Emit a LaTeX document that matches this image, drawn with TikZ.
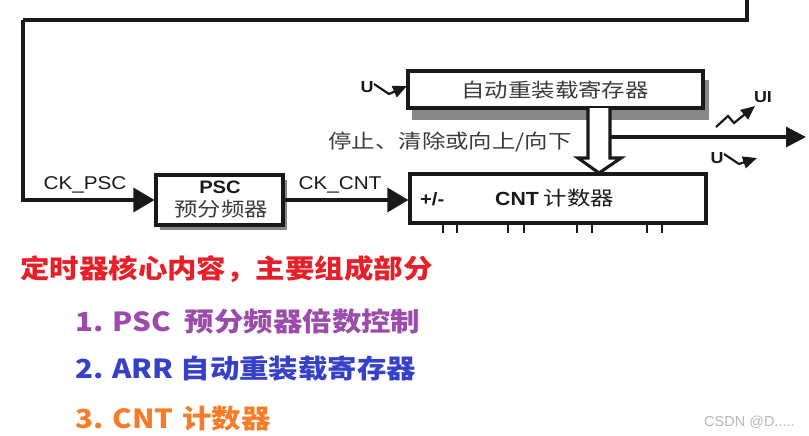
\documentclass[tikz,border=0pt]{standalone}
\usepackage{fontspec}
\setmainfont{Liberation Sans}[FakeStretch=1.12]
\newfontfamily\cjk{Noto Sans CJK SC}[FakeStretch=1.2]
\newfontfamily\cjkt{Noto Sans CJK SC}[FakeStretch=1.12]
\newfontfamily\wmfont{Liberation Sans}
\usetikzlibrary{arrows.meta}
\definecolor{cred}{RGB}{232,30,40}
\definecolor{cpur}{RGB}{155,75,170}
\definecolor{cblue}{RGB}{55,65,200}
\definecolor{corg}{RGB}{245,125,40}
\definecolor{ink}{RGB}{25,25,25}
\definecolor{shadowc}{RGB}{135,135,135}
\tikzset{
  ln/.style={line width=3.1pt, draw=ink, line join=miter},
  boxs/.style={draw=ink, line width=3.1pt, fill=white, inner sep=0pt},
  shad/.style={fill=shadowc, draw=none},
  bigarrow/.style={-{Triangle[length=21pt,width=24pt]}},
  smallarrow/.style={-{Triangle[length=14pt,width=12pt]}},
  lbl/.style={font=\fontsize{18.5}{18}\selectfont, text=ink, inner sep=0pt},
  blbl/.style={font=\bfseries\fontsize{18}{18}\selectfont, text=ink, inner sep=0pt},
  ulbl/.style={font=\bfseries\fontsize{16}{15}\selectfont, text=ink, inner sep=0pt},
  cjkl/.style={font=\cjk\fontsize{19.5}{20}\selectfont, text=ink!85, inner sep=0pt},
  ticks/.style={line width=2.2pt, draw=ink},
  bottomtxt/.style={font=\cjkt\bfseries\fontsize{26.3}{27}\selectfont, inner sep=0pt, anchor=west},
}
\begin{document}
\begin{tikzpicture}[x=1pt,y=-1pt]
\path[use as bounding box, fill=white] (0,0) rectangle (809,436);

% shadows
\fill[shad] (412,80) rectangle (709,120);
\fill[shad] (160,180) rectangle (287,230);

% boxes
\node[boxs, minimum width=295pt, minimum height=37pt] (arr) at (555.5,89.5) {};
\node[boxs, minimum width=127pt, minimum height=50pt] (psc) at (219.5,200) {};
\node[boxs, minimum width=296pt, minimum height=49pt] (cnt) at (558,198.5) {};

% box texts
\node[cjkl] (arrtxt) at (555,90) {自动重装载寄存器};
\node[blbl] (psctxt) at (220,187.5) {PSC};
\node[cjkl] (psccjk) at (221,209) {预分频器};
\node[blbl, anchor=west] (pm) at (420,199) {+/-};
\node[anchor=west, inner sep=0pt, text=ink] (cnttxt) at (495,198)
  {{\bfseries\fontsize{19}{19}\selectfont CNT}\hspace{5pt}{\cjk\fontsize{19.5}{20}\selectfont 计数器}};

% labels
\node[lbl] (ckpsc) at (85,185) {CK\_PSC};
\node[lbl] (ckcnt) at (340,185) {CK\_CNT};
\node[cjkl] (ctrl) at (450,142) {停止、清除或向上/向下};

% loop from top
\coordinate (topstart) at (747,-2);
\coordinate (corner) at (23,20);
\draw[ln] (topstart) |- (corner);
\draw[ln, bigarrow] (corner) |- (psc.west);
\draw[ln, bigarrow] (psc.east) -- (psc.east -| cnt.west);

% hollow transfer arrow ARR -> CNT
\draw[ln, fill=white] (588,108) -- (588,158) -- (578,158) -- (599,173) -- (621,158) -- (610,158) -- (610,108);

% output line
\coordinate (outstart) at (610,137);
\coordinate (outend) at (806,137);
\draw[ln, -{Triangle[length=20pt,width=20pt]}] (outstart) -- (outend);

% U arrows
\node[ulbl] (u1) at (367,87.5) {U};
\coordinate (u1a) at (374,84);
\coordinate (u1b) at (389,94);
\coordinate (u1c) at (407,86);
\draw[line width=2.2pt, draw=ink, smallarrow] (u1a) -- (u1b) -- (u1c);

\node[ulbl] (u2) at (717,158) {U};
\coordinate (u2a) at (724,154);
\coordinate (u2b) at (739,164);
\coordinate (u2c) at (757,158);
\draw[line width=2.2pt, draw=ink, smallarrow] (u2a) -- (u2b) -- (u2c);

\node[ulbl] (ui) at (763,97) {UI};
\coordinate (z1) at (716,127);
\coordinate (z2) at (728,116);
\coordinate (z3) at (734,123);
\coordinate (z4) at (755,106);
\draw[line width=2.2pt, draw=ink, smallarrow] (z1) -- (z2) -- (z3) -- (z4);

% ticks under CNT
\foreach \xa in {443,457,508,524,577,592,647,662}
  \draw[ticks] (\xa,223) -- (\xa,233);

% bottom texts
\node[bottomtxt, text=cred] (t0) at (20,269) {定时器核心内容，主要组成部分};
\node[bottomtxt, text=cpur] (t1) at (75,321) {1. PSC\hspace{14pt}预分频器倍数控制};
\node[bottomtxt, text=cblue] (t2) at (75,369) {2. ARR\hspace{7pt}自动重装载寄存器};
\node[bottomtxt, text=corg] (t3) at (75,419) {3. CNT\hspace{9pt}计数器};

% watermark
\node[font=\wmfont\fontsize{14.5}{14}\selectfont, text=black!28, anchor=west, inner sep=0pt] (wm) at (704,422) {CSDN @D.....};
\end{tikzpicture}
\end{document}
